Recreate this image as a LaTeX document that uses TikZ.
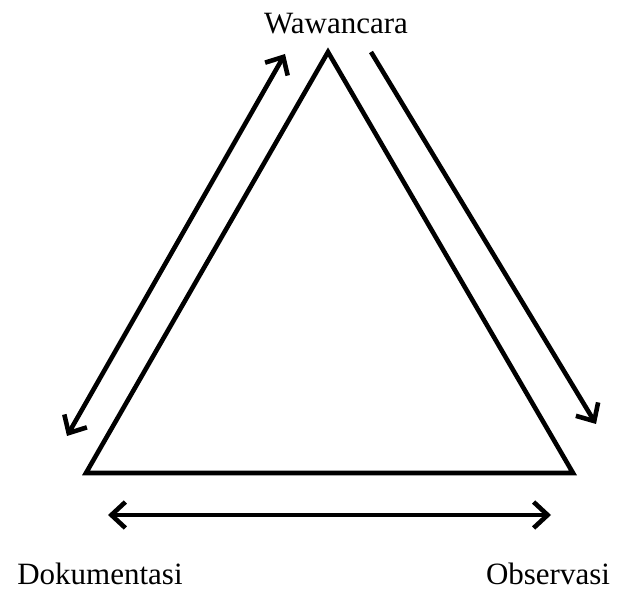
\documentclass[tikz,border=0pt]{standalone}
\usepackage{fontspec}
\setmainfont{Liberation Serif}
\usetikzlibrary{arrows.meta}
\tikzset{trilab/.style={font=\fontsize{31}{36}\selectfont,inner sep=0pt},
         triside/.style={line width=4.6pt,line join=miter},
         tribarb/.style={arrows={-Straight Barb[length=14pt,width=26pt,line width=4.6pt]}},
         triarr/.style={line width=4.6pt,tribarb},
         triarrboth/.style={line width=4.6pt,arrows={Straight Barb[length=14pt,width=26pt,line width=4.6pt]-Straight Barb[length=14pt,width=26pt,line width=4.6pt]}}}

\begin{document}
\begin{tikzpicture}[x=1pt,y=-1pt]
    \useasboundingbox (0,0) rectangle (619,593);
    \coordinate (top) at (328,52); \coordinate (bl) at (86,473); \coordinate (br) at (573,473);
    \draw[triside] (top)--(bl)--(br)--cycle;
    \node[trilab] (waw) at (336,24) {Wawancara};
    \node[trilab] (dok) at (100,574) {Dokumentasi};
    \node[trilab] (obs) at (548,574) {Observasi};
    \coordinate (l1) at (285,54); \coordinate (l2) at (67,436);
    \coordinate (r1) at (371,52); \coordinate (r2) at (596,424);
    \coordinate (b1) at (108,515); \coordinate (b2) at (551,515);
    \draw[triarrboth] (l2)--(l1); \draw[triarr] (r1)--(r2); \draw[triarrboth] (b1)--(b2);
  \end{tikzpicture}
\end{document}
